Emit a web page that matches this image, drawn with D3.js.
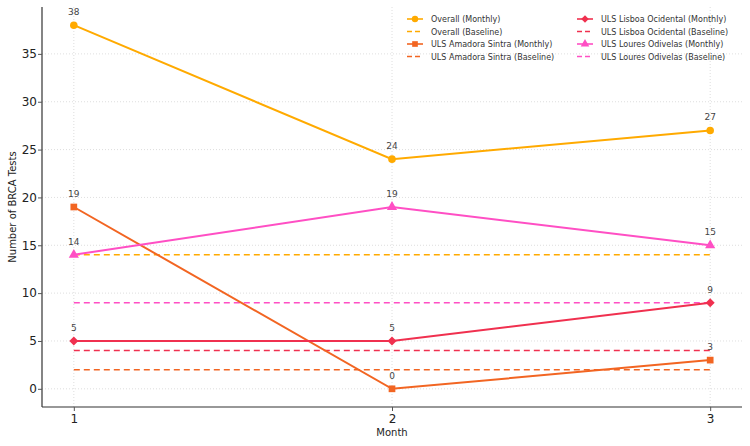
<!DOCTYPE html>
<html><head><meta charset="utf-8">
<script src="https://cdn.jsdelivr.net/npm/d3@7"></script>
<style>body{margin:0;background:#fff;} text{font-family:"DejaVu Sans",sans-serif;}</style>
</head><body><svg id="c" width="750" height="446"></svg>
<script>
const months = [1, 2, 3];
const overallMonthly = [38, 24, 27];
const amadoraMonthly = [19, 0, 3];
const lisboaMonthly = [5, 5, 9];
const louresMonthly = [14, 19, 15];
const baselines = [14, 2, 4, 9];
const seriesNames = ["Overall", "ULS Amadora Sintra", "ULS Lisboa Ocidental", "ULS Loures Odivelas"];
const yTicks = [0, 5, 10, 15, 20, 25, 30, 35];
const colors = ["#FFAA00", "#F26522", "#F0304F", "#FF4FC4"];
const symbols = ["circle", "square", "diamond", "triangle"];

const series = [overallMonthly, amadoraMonthly, lisboaMonthly, louresMonthly].map((v, i) => ({
  name: seriesNames[i], values: v, base: baselines[i], color: colors[i], sym: symbols[i]
}));

const svg = d3.select("#c");
const L = 42, R = 742, T = 7, B = 407;
const x = d3.scaleLinear().domain([0.9, 3.1]).range([L, R]);
const y = d3.scaleLinear().domain([-1.9, 39.9]).range([B, T]);

// grid
const g = svg.append("g");
g.selectAll(".gy").data(yTicks).join("line")
  .attr("x1", L).attr("x2", R).attr("y1", d => y(d)).attr("y2", d => y(d))
  .attr("stroke", "#d6d6d6").attr("stroke-width", 0.8).attr("stroke-dasharray", "1,2");
g.selectAll(".gx").data(months).join("line")
  .attr("y1", T).attr("y2", B).attr("x1", d => x(d)).attr("x2", d => x(d))
  .attr("stroke", "#d6d6d6").attr("stroke-width", 0.8).attr("stroke-dasharray", "1,2");

// axes
const xa = svg.append("g").attr("transform", `translate(0,${B})`)
  .call(d3.axisBottom(x).tickValues(months).tickFormat(d3.format("d")).tickSize(4).tickSizeOuter(0));
const ya = svg.append("g").attr("transform", `translate(${L},0)`)
  .call(d3.axisLeft(y).tickValues(yTicks).tickSize(4).tickPadding(1).tickSizeOuter(0));
[xa, ya].forEach(a => {
  a.select(".domain").attr("stroke", "#333").attr("stroke-width", 1.2);
  a.selectAll(".tick line").attr("stroke", "#555");
  a.selectAll(".tick text").attr("font-size", 12).attr("fill", "#222").attr("font-family", "DejaVu Sans");
});
xa.select(".domain").attr("d", `M${L},0H${R}`);
ya.select(".domain").attr("d", `M0,${T}V${B}`);

svg.append("text").attr("x", (L + R) / 2).attr("y", 436).attr("text-anchor", "middle")
  .attr("font-size", 10).attr("fill", "#222").text("Month");
svg.append("text").attr("transform", `translate(16,${(T + B) / 2}) rotate(-90)`).attr("text-anchor", "middle")
  .attr("font-size", 10).attr("fill", "#222").text("Number of BRCA Tests");

// baselines
series.forEach(s => {
  svg.append("line").attr("x1", x(months[0])).attr("x2", x(months[months.length - 1]))
    .attr("y1", y(s.base)).attr("y2", y(s.base))
    .attr("stroke", s.color).attr("stroke-width", 1.5).attr("stroke-dasharray", "6,4");
});

function marker(sel, sym, size) {
  if (sym === "diamond") {
    sel.attr("d", d3.symbol().type(d3.symbolSquare).size(size * 0.9)()).attr("transform", function () {
      return d3.select(this).attr("transform") + " rotate(45)";
    });
  } else {
    const t = { circle: d3.symbolCircle, square: d3.symbolSquare, triangle: d3.symbolTriangle }[sym];
    sel.attr("d", d3.symbol().type(t).size(size)());
  }
}

const line = d3.line().x((d, i) => x(months[i])).y(d => y(d));
series.forEach(s => {
  svg.append("path").datum(s.values).attr("d", line).attr("fill", "none")
    .attr("stroke", s.color).attr("stroke-width", 2);
  const m = svg.selectAll(null).data(s.values).join("path")
    .attr("transform", (d, i) => `translate(${x(months[i])},${y(d)})`)
    .attr("fill", s.color);
  marker(m, s.sym, 45);
  svg.selectAll(null).data(s.values).join("text")
    .attr("x", (d, i) => x(months[i])).attr("y", d => y(d) - 10)
    .attr("text-anchor", "middle").attr("font-size", 9).attr("fill", "#444").text(d => d);
});

// legend
const leg = svg.append("g");
const entries = [];
series.forEach(s => {
  entries.push({ label: s.name + " (Monthly)", color: s.color, sym: s.sym, dashed: false });
  entries.push({ label: s.name + " (Baseline)", color: s.color, dashed: true });
});
entries.forEach((e, i) => {
  const col = Math.floor(i / 4), row = i % 4;
  const lx = col === 0 ? 407 : 577, ly = 19 + row * 12.5;
  leg.append("line").attr("x1", lx).attr("x2", lx + 16).attr("y1", ly).attr("y2", ly)
    .attr("stroke", e.color).attr("stroke-width", 1.6).attr("stroke-dasharray", e.dashed ? "5,3" : null);
  if (!e.dashed) {
    const p = leg.append("path").attr("transform", `translate(${lx + 8},${ly})`).attr("fill", e.color);
    marker(p, e.sym, 32);
  }
  leg.append("text").attr("x", lx + 24).attr("y", ly + 3).attr("font-size", 8).attr("fill", "#333").text(e.label);
});
</script></body></html>
